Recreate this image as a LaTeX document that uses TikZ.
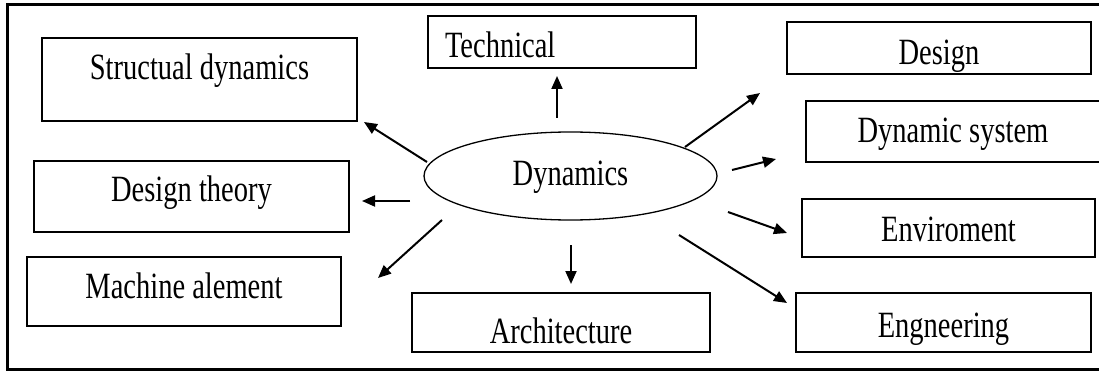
\documentclass[tikz,border=0pt]{standalone}
\usepackage{fontspec}
\setmainfont{Liberation Serif}
\usepackage{graphicx}
\usetikzlibrary{shapes.geometric,arrows.meta}

% tall, narrow letters as in the scan
\newcommand{\tallt}[1]{\scalebox{1}[1.3]{#1}}

\tikzset{
  box/.style={draw, line width=2pt, inner sep=0pt, font=\fontsize{28.5}{30}\selectfont},
  oval/.style={draw, ellipse, line width=1.3pt, inner sep=0pt, font=\fontsize{28.5}{30}\selectfont},
  arrow/.style={-{Triangle[length=13pt,width=11pt]}, line width=2pt}
}

\begin{document}
\begin{tikzpicture}[x=1pt,y=-1pt]

\useasboundingbox (0,0) rectangle (1099,371);

% Draw the frame (open on the right)
\draw[line width=3pt] (1099,5) -- (7.3,5) -- (7.3,369) -- (1099,369);

% Draw the centre
\node[oval, minimum width=293pt, minimum height=88pt, text height=32pt, text depth=12pt] (dyn) at (570.5,176) {\tallt{Dynamics}};

% Draw the boxes on the left
\node[box, minimum width=315pt, minimum height=83pt, text height=22.5pt, text depth=21.5pt] (struct) at (199.5,79.5) {\tallt{Structual dynamics}};
\node[box, minimum width=315pt, minimum height=71pt, text height=27.5pt, text depth=16.5pt] (theory) at (191.5,196.5) {\tallt{Design theory}};
\node[box, minimum width=314pt, minimum height=69pt, text height=28.5pt, text depth=15.5pt] (machine) at (184,291.5) {\tallt{Machine alement}};

% Draw the boxes above and below
\node[box, minimum width=268pt, minimum height=52pt, text width=234pt, align=left, text height=37.3pt, text depth=6.7pt] (tech) at (562,42) {\tallt{Technical}};
\node[box, minimum width=298pt, minimum height=59pt, text height=42.5pt, text depth=1.5pt] (arch) at (561,322.5) {\tallt{Architecture}};

% Draw the boxes on the right
\node[box, minimum width=304pt, minimum height=52pt, text height=39pt, text depth=5pt] (design) at (939,48) {\tallt{Design}};
\node[box, minimum width=294pt, minimum height=61pt, text height=33.5pt, text depth=10.5pt] (dsys) at (953,131.5) {\tallt{Dynamic system}};
\node[box, minimum width=293pt, minimum height=58pt, text height=35.7pt, text depth=8.3pt] (env) at (948.5,228) {\tallt{Enviroment}};
\node[box, minimum width=295pt, minimum height=59pt, text height=36.5pt, text depth=7.5pt] (eng) at (943.5,322.5) {\tallt{Engneering}};

% Draw the arrows out of the centre
\foreach \tx/\ty/\tgt/\anc/\hx/\hy in {
    -143.5/-14/struct/south east/6/0,
    -160.5/25/theory/east/12/4.5,
    -128.5/44/machine/east/36/-13.5,
    -13.5/-58/tech/south/-5/7,
    0.5/69/arch/north/10/-8,
    114.5/-29/design/south west/-26/18,
    161.5/-6/dsys/west/-29/27.5,
    157.5/36/env/west/-14/5,
    108.5/59/eng/north west/-8/11} {
    \draw[arrow] ([shift={(\tx,\ty)}]dyn.center) -- ([shift={(\hx,\hy)}]\tgt.\anc);
}

\end{tikzpicture}
\end{document}
